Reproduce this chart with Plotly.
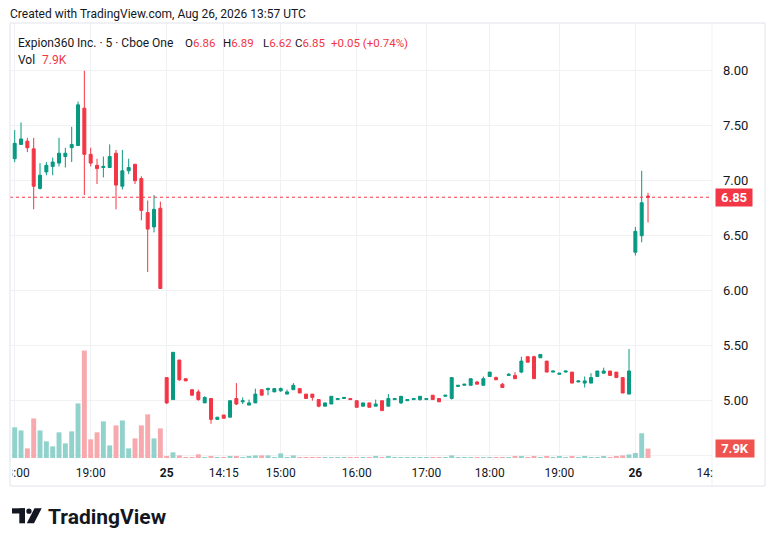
import plotly.graph_objects as go

# ---------------- data (5-minute bars) ----------------
opens = [7.20, 7.33, 7.36, 7.29, 6.93, 7.08, 7.13, 7.16, 7.22, 7.30, 7.32, 7.66,
         7.24, 7.14, 7.12, 7.12, 7.25, 6.95, 7.09, 7.15, 7.02, 6.71, 6.58, 6.75,
         5.21, 5.01, 5.37, 5.20, 5.10, 5.08, 4.98, 5.02, 4.83, 4.87, 4.85, 5.02,
         4.99, 4.96, 4.98, 5.10, 5.10, 5.08, 5.09, 5.06, 5.10, 5.11, 5.06, 5.06,
         5.01, 4.95, 4.97, 5.01, 5.02, 5.02, 5.00, 4.95, 4.98, 4.95, 5.00, 4.95,
         5.01, 4.98, 5.00, 5.01, 5.01, 5.01, 5.05, 5.02, 5.04, 5.02, 5.13, 5.14,
         5.14, 5.17, 5.14, 5.22, 5.21, 5.15, 5.23, 5.23, 5.26, 5.40, 5.40, 5.39,
         5.36, 5.26, 5.24, 5.26, 5.26, 5.17, 5.16, 5.16, 5.22, 5.25, 5.27, 5.26,
         5.21, 5.06,
         6.35, 6.50, 6.86]
highs = [7.46, 7.53, 7.39, 7.39, 7.16, 7.17, 7.21, 7.39, 7.30, 7.49, 7.72, 8.00,
         7.30, 7.20, 7.22, 7.33, 7.28, 7.28, 7.20, 7.15, 7.04, 6.82, 6.87, 6.81,
         5.21, 5.44, 5.37, 5.20, 5.10, 5.10, 5.04, 5.02, 4.85, 4.87, 5.00, 5.16,
         5.03, 5.01, 5.11, 5.10, 5.12, 5.11, 5.12, 5.10, 5.16, 5.11, 5.06, 5.06,
         5.01, 4.98, 5.04, 5.02, 5.03, 5.02, 5.00, 4.98, 4.98, 5.01, 5.00, 5.06,
         5.02, 5.04, 5.01, 5.02, 5.04, 5.02, 5.05, 5.02, 5.05, 5.21, 5.14, 5.15,
         5.20, 5.18, 5.22, 5.26, 5.22, 5.16, 5.25, 5.26, 5.40, 5.40, 5.41, 5.42,
         5.36, 5.27, 5.25, 5.27, 5.26, 5.18, 5.22, 5.25, 5.27, 5.30, 5.27, 5.26,
         5.21, 5.47,
         6.58, 7.09, 6.89]
lows = [7.17, 7.33, 7.26, 6.74, 6.92, 7.05, 7.05, 7.13, 7.12, 7.17, 7.32, 6.87,
        7.13, 6.97, 7.03, 7.12, 6.74, 6.92, 7.06, 6.97, 6.64, 6.17, 6.53, 6.02,
        4.97, 5.01, 5.18, 5.18, 5.05, 5.00, 4.98, 4.79, 4.83, 4.84, 4.85, 4.96,
        4.97, 4.96, 4.98, 5.05, 5.05, 5.08, 5.08, 5.06, 5.10, 5.07, 5.02, 5.00,
        4.94, 4.95, 4.97, 5.01, 5.02, 5.01, 4.94, 4.95, 4.94, 4.95, 4.91, 4.95,
        5.01, 4.97, 5.00, 5.01, 5.00, 5.01, 5.01, 4.99, 5.04, 5.01, 5.13, 5.14,
        5.14, 5.15, 5.14, 5.22, 5.19, 5.12, 5.23, 5.20, 5.25, 5.35, 5.20, 5.39,
        5.26, 5.26, 5.24, 5.26, 5.16, 5.17, 5.12, 5.16, 5.22, 5.25, 5.23, 5.21,
        5.07, 5.06,
        6.32, 6.44, 6.62]
closes = [7.34, 7.38, 7.30, 6.95, 7.05, 7.14, 7.17, 7.25, 7.25, 7.33, 7.69, 7.24,
          7.16, 7.11, 7.13, 7.22, 6.96, 7.09, 7.12, 7.00, 6.73, 6.56, 6.74, 6.02,
          4.98, 5.44, 5.19, 5.18, 5.05, 5.01, 5.03, 4.83, 4.85, 4.84, 5.00, 4.97,
          5.00, 4.98, 5.06, 5.05, 5.11, 5.11, 5.11, 5.08, 5.14, 5.07, 5.02, 5.03,
          4.95, 4.98, 5.04, 5.02, 5.03, 5.01, 4.94, 4.98, 4.94, 4.97, 4.91, 5.02,
          5.02, 5.04, 5.01, 5.02, 5.04, 5.02, 5.01, 4.99, 5.05, 5.21, 5.14, 5.15,
          5.20, 5.15, 5.20, 5.26, 5.19, 5.12, 5.24, 5.20, 5.36, 5.35, 5.20, 5.42,
          5.26, 5.27, 5.25, 5.27, 5.16, 5.18, 5.18, 5.21, 5.27, 5.27, 5.23, 5.21,
          5.07, 5.27,
          6.54, 6.80, 6.85]
volumes = [25800, 23200, 8100, 33300, 23200, 14000, 9800, 21600, 12300, 22400, 45900, 90400,
           15700, 21600, 30800, 10600, 27400, 31600, 8100, 16500, 27400, 36700, 16500, 24900,
           1400, 4800, 2200, 600, 600, 3100, 600, 1400, 600, 600, 1400, 1400,
           600, 1400, 2200, 2200, 2200, 600, 3900, 600, 2200, 600, 600, 600,
           600, 600, 600, 600, 600, 600, 600, 600, 600, 1400, 600, 1400,
           600, 600, 600, 600, 600, 600, 600, 600, 600, 2200, 600, 600,
           600, 600, 600, 600, 600, 600, 600, 1400, 1400, 600, 1400, 600,
           1400, 600, 1000, 600, 1400, 600, 1400, 600, 600, 1400, 600, 1400,
           2200, 3000,
           4200, 20800, 7900]

tick_bars = [0, 12, 24, 33, 42, 54, 65, 75, 86, 98, 110]
tick_labels = ["18:00", "19:00", "<b>25</b>", "14:15", "15:00", "16:00", "17:00",
               "18:00", "19:00", "<b>26</b>", "14:30"]
price_ticks = [4.5, 5.0, 5.5, 6.0, 6.5, 7.0, 7.5, 8.0]
price_labels = ["", "5.00", "5.50", "6.00", "6.50", "7.00", "7.50", "8.00"]

header = "Created with TradingView.com, Aug 26, 2026 13:57 UTC"
symbol = "Expion360 Inc. · 5 · Cboe One"
last_change = "+0.05 (+0.74%)"
last_vol = "7.9K"

# ---------------- styling ----------------
UP = "#089981"
DOWN = "#F23645"
UP_VOL = "#92D2CC"
DOWN_VOL = "#F7A9AD"
TXT = "#131722"
GRID = "#F0F1F3"
FONT = "Roboto, 'Noto Sans', sans-serif"

W, H = 776, 546
ML, MR, MT, MB = 10, 64, 23, 88
PW = W - ML - MR
PH = H - MT - MB

bars = list(range(len(opens)))
vol_colors = [UP_VOL if c >= o else DOWN_VOL for o, c in zip(opens, closes)]

fig = go.Figure()
fig.add_trace(go.Bar(
    x=bars, y=volumes, yaxis="y2", marker=dict(color=vol_colors, line=dict(width=0)),
    width=0.78, hoverinfo="skip", showlegend=False))
fig.add_trace(go.Candlestick(
    x=bars, open=opens, high=highs, low=lows, close=closes,
    increasing=dict(line=dict(color=UP, width=1), fillcolor=UP),
    decreasing=dict(line=dict(color=DOWN, width=1), fillcolor=DOWN),
    whiskerwidth=0, showlegend=False))

def px_x(px):
    return (px - ML) / PW

def px_y(py):
    return 1 - (py - MT) / PH

shapes = [
    # last price dotted line
    dict(type="line", xref="paper", yref="y", x0=0, x1=1, y0=closes[-1], y1=closes[-1],
         line=dict(color=DOWN, width=1, dash="dot"), layer="above"),
    # covers that clip the time labels at the chart edges
    dict(type="rect", xref="paper", yref="paper", x0=px_x(713), x1=px_x(764), y0=px_y(485),
         y1=px_y(458.5), fillcolor="white", line=dict(width=0), layer="above"),
    dict(type="rect", xref="paper", yref="paper", x0=px_x(0), x1=px_x(12.5), y0=px_y(485),
         y1=px_y(458.5), fillcolor="white", line=dict(width=0), layer="above"),
    # chart frame
    dict(type="rect", xref="paper", yref="paper", x0=px_x(10), x1=px_x(765), y0=px_y(486),
         y1=px_y(23), line=dict(color="#E0E3EB", width=1), fillcolor="rgba(0,0,0,0)",
         layer="above"),
    # price-scale separator
    dict(type="line", xref="paper", yref="paper", x0=1, x1=1, y0=px_y(486), y1=1,
         line=dict(color="#F0F1F3", width=1), layer="below"),
    # TV logo
    dict(type="rect", xref="paper", yref="paper", x0=px_x(12), x1=px_x(25), y0=px_y(513.5),
         y1=px_y(508.3), fillcolor=TXT, line=dict(width=0)),
    dict(type="rect", xref="paper", yref="paper", x0=px_x(19.3), x1=px_x(25), y0=px_y(523.3),
         y1=px_y(508.3), fillcolor=TXT, line=dict(width=0)),
    dict(type="circle", xref="paper", yref="paper", x0=px_x(26.3), x1=px_x(31.6), y0=px_y(513.8),
         y1=px_y(508.5), fillcolor=TXT, line=dict(width=0)),
    dict(type="path", xref="paper", yref="paper",
         path=f"M {px_x(34.5)},{px_y(508.3)} L {px_x(41.7)},{px_y(508.3)} "
              f"L {px_x(34.0)},{px_y(523.3)} L {px_x(26.8)},{px_y(523.3)} Z",
         fillcolor=TXT, line=dict(width=0)),
]

def ann(text, x, y, size=12, color=TXT, xanchor="left", **kw):
    return dict(text=text, xref="paper", yref="paper", x=px_x(x), y=px_y(y),
                xanchor=xanchor, yanchor="middle", showarrow=False, borderpad=0,
                font=dict(family=FONT, size=size, color=color), **kw)

red = lambda s: f"<span style='color:{DOWN}'>{s}</span>"
annotations = [
    ann(header, 9, 14, size=12),
    ann(symbol, 17, 42.7),
    ann("O" + red(f"{opens[-1]:.2f}"), 183.5, 42.7, size=11.5),
    ann("H" + red(f"{highs[-1]:.2f}"), 222, 42.7, size=11.5),
    ann("L" + red(f"{lows[-1]:.2f}"), 262, 42.7, size=11.5),
    ann("C" + red(f"{closes[-1]:.2f}"), 294, 42.7, size=11.5),
    ann(red(last_change), 329.5, 42.7, size=11.5),
    ann("Vol", 17, 60),
    ann(red(last_vol), 40.5, 60),
    ann("<b>TradingView</b>", 47, 516.5, size=21),
    # last price label
    dict(text=f"<b>{closes[-1]:.2f}</b>", xref="paper", yref="y", x=px_x(715), y=closes[-1],
         xanchor="left", yanchor="middle", showarrow=False, width=32, height=13,
         bgcolor=DOWN, borderpad=2, font=dict(family=FONT, size=13, color="white")),
    # last volume label
    dict(text=f"<b>{last_vol}</b>", xref="paper", yref="paper", x=px_x(715), y=px_y(448.5),
         xanchor="left", yanchor="middle", showarrow=False, width=34, height=13,
         bgcolor="#EF5350", borderpad=2, font=dict(family=FONT, size=13, color="white")),
]

fig.update_layout(
    width=W, height=H, margin=dict(l=ML, r=MR, t=MT, b=MB, autoexpand=False),
    paper_bgcolor="white", plot_bgcolor="white",
    font=dict(family=FONT, color=TXT, size=12),
    boxgap=0.33,
    xaxis=dict(range=[-0.74, 110.1], tickmode="array", tickvals=tick_bars, ticktext=tick_labels,
               showgrid=True, gridcolor=GRID, gridwidth=1, zeroline=False, showline=False,
               ticks="", ticklabelstandoff=6, ticklabeloverflow="allow", automargin=False,
               tickfont=dict(size=12, color=TXT),
               rangeslider=dict(visible=False), fixedrange=True),
    yaxis=dict(range=[4.479, 8.434], side="right", tickmode="array", tickvals=price_ticks,
               ticktext=price_labels, showgrid=True, gridcolor=GRID, gridwidth=1,
               zeroline=False, showline=False, ticks="", ticklabelstandoff=10,
               automargin=False, tickfont=dict(size=13, color=TXT), fixedrange=True),
    yaxis2=dict(range=[0, 366000], overlaying="y", visible=False, showgrid=False,
                fixedrange=True),
    shapes=shapes, annotations=annotations,
    hovermode=False,
)

fig.write_html("out.html", config={"displayModeBar": False},
               post_script="document.body.style.margin='0';")
